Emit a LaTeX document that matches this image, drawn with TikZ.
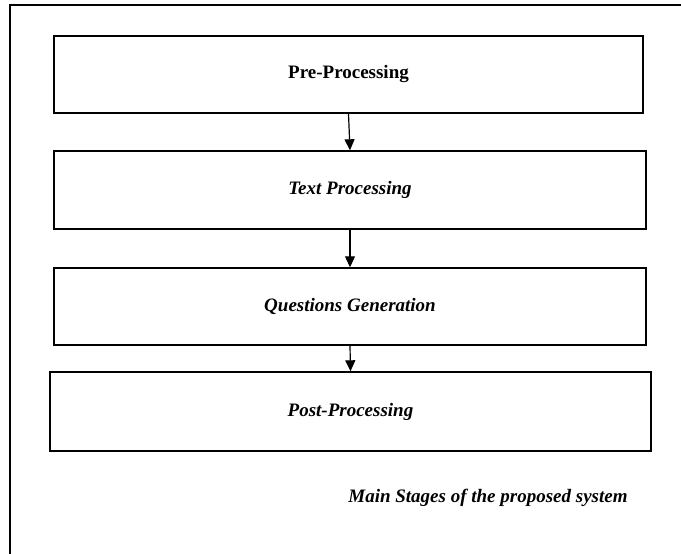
\documentclass[tikz,border=0pt]{standalone}
\usepackage{fontspec}
\setmainfont{Liberation Serif}
\usetikzlibrary{arrows.meta}
\begin{document}
\begin{tikzpicture}[x=1pt,y=-1pt,
  stagebox/.style={draw,line width=1.4pt,rectangle,inner sep=0pt,
    font=\fontsize{19}{23}\selectfont\bfseries},
  flow/.style={line width=1.2pt,-{Triangle[length=11pt,width=10pt]}},
  frameline/.style={line width=1.4pt}]
\useasboundingbox (0,0) rectangle (681,554);
\coordinate (ftr) at (681,5);
\coordinate (ftl) at (10,5);
\coordinate (fbl) at (10,554);
\draw[frameline] (ftr) -- (ftl) -- (fbl);
\node[stagebox,minimum width=589pt,minimum height=77pt] (pre) at (348.5,74.5) {Pre-Processing};
\node[stagebox,minimum width=592pt,minimum height=78pt] (text) at (350,190) {\itshape Text Processing};
\node[stagebox,minimum width=592pt,minimum height=77pt] (qg) at (350,306.5) {\itshape Questions Generation};
\node[stagebox,minimum width=601pt,minimum height=79pt] (post) at (350.5,411.5) {\itshape Post-Processing};
\draw[flow] (pre.south) -- (text.north);
\draw[flow] (text.south) -- (qg.north);
\draw[flow] (qg.south) -- (post.north);
\node[font=\fontsize{19}{23}\selectfont\bfseries\itshape,inner sep=0pt] (cap) at (488,498) {Main Stages of the proposed system};
\end{tikzpicture}
\end{document}
